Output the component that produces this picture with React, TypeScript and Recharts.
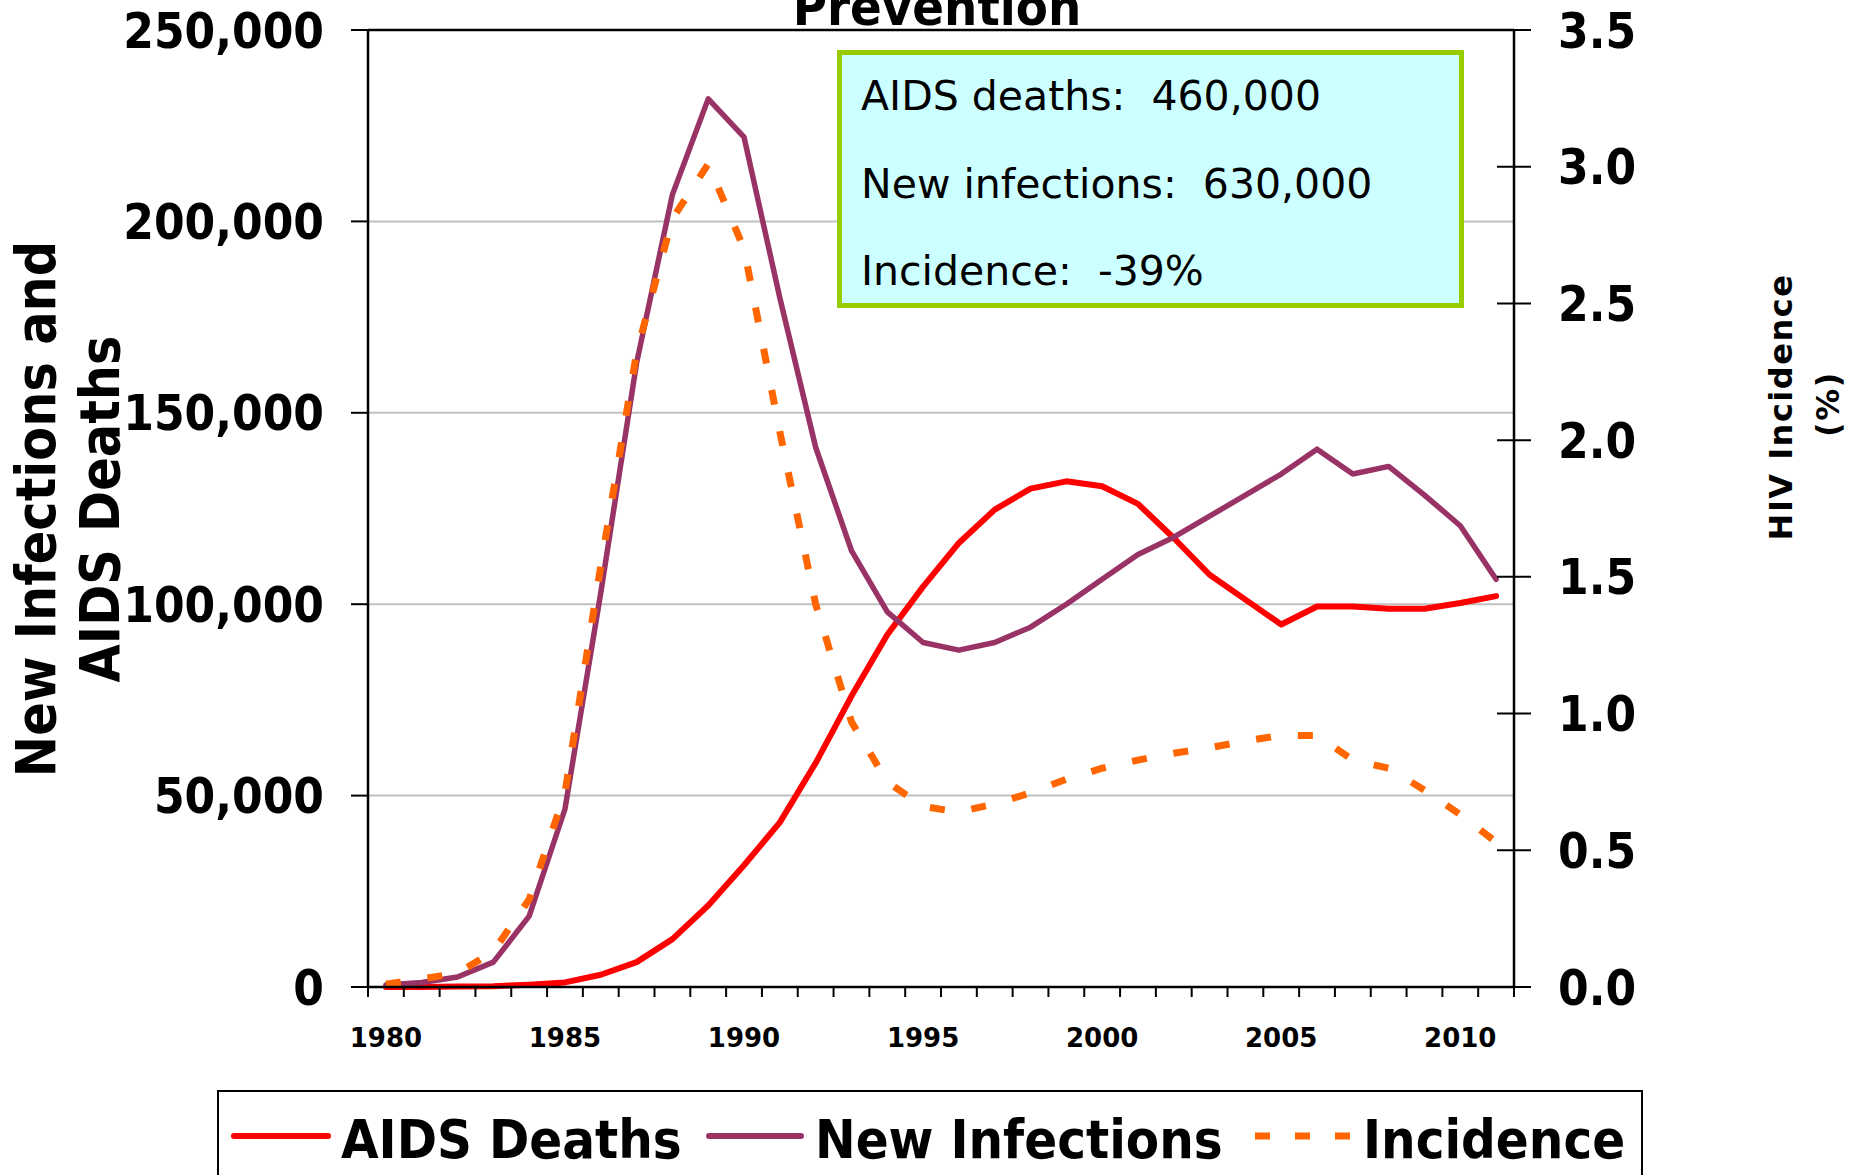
import React from 'react';
import { LineChart, Line, XAxis, YAxis, CartesianGrid, ReferenceLine } from 'recharts';

// values
const years = [
  1980, 1981, 1982, 1983, 1984, 1985, 1986, 1987, 1988, 1989,
  1990, 1991, 1992, 1993, 1994, 1995, 1996, 1997, 1998, 1999,
  2000, 2001, 2002, 2003, 2004, 2005, 2006, 2007, 2008, 2009,
  2010, 2011,
];
const aidsDeaths = [
  0, 0, 100, 200, 600, 1200, 3200, 6500, 12500, 21300,
  31800, 43000, 58500, 76000, 92000, 104600, 116000, 124700, 130200, 132100,
  130800, 126200, 117300, 107700, 101200, 94700, 99400, 99400, 98800, 98800,
  100300, 102100,
];
const newInfections = [
  500, 1200, 2600, 6500, 18500, 46500, 103000, 163000, 207000, 232000,
  222000, 180000, 141000, 114000, 98000, 90000, 88000, 90000, 94000, 100000,
  106500, 113000, 117500, 123000, 128500, 134000, 140500, 134000, 136000, 128500,
  120500, 106500,
];
const incidence = [
  0.01, 0.03, 0.05, 0.13, 0.32, 0.71, 1.54, 2.32, 2.81, 3.01,
  2.7, 2.03, 1.4, 0.97, 0.75, 0.66, 0.64, 0.67, 0.71, 0.76,
  0.8, 0.83, 0.855, 0.875, 0.9, 0.92, 0.92, 0.83, 0.8, 0.72,
  0.63, 0.53,
];

const leftTicks = [0, 50000, 100000, 150000, 200000, 250000];
const rightTicks = [0, 0.5, 1, 1.5, 2, 2.5, 3, 3.5];
const yearLabels = [1980, 1985, 1990, 1995, 2000, 2005, 2010];
const seriesNames = ['AIDS Deaths', 'New Infections', 'Incidence'];
const infoLines = ['AIDS deaths:  460,000', 'New infections:  630,000', 'Incidence:  -39%'];
const titleText = 'Prevention';
const leftTitle = ['New Infections and', 'AIDS Deaths'];
const rightTitle = ['HIV Incidence', '(%)'];

const data = years.map((year, i) => ({
  year,
  deaths: aidsDeaths[i],
  infections: newInfections[i],
  incidence: incidence[i],
}));

// category boundaries (Excel style tick marks between years) + the labelled years
const xTicks = [
  ...years.map((y) => y - 0.5),
  years[years.length - 1] + 0.5,
  ...yearLabels,
].sort((a, b) => a - b);

const W = 1855;
const H = 1175;
const COND = "'DejaVu Sans Condensed', 'DejaVu Sans', sans-serif";
const PLAIN = "'DejaVu Sans', sans-serif";
const RED = '#FF0000';
const PURPLE = '#993366';
const ORANGE = '#FF6600';
const DASH = '15 27';
const AXIS = { stroke: '#000', strokeWidth: 2.5 };

const fmt = (v: number) => v.toLocaleString('en-US');

function LeftTick(props: any) {
  const { x, y, payload } = props;
  return (
    <g>
      <line x1={x - 17} x2={x} y1={y} y2={y} stroke="#000" strokeWidth={2} />
      <text x={x - 44} y={y} dy="0.36em" textAnchor="end" fontFamily={COND}
        fontWeight="bold" fontSize={49} style={{ fontStretch: 'condensed' }} fill="#000">
        {fmt(payload.value)}
      </text>
    </g>
  );
}

function RightTick(props: any) {
  const { x, y, payload } = props;
  return (
    <g>
      <line x1={x - 17} x2={x + 17} y1={y} y2={y} stroke="#000" strokeWidth={2} />
      <text x={x + 44} y={y} dy="0.36em" textAnchor="start" fontFamily={COND}
        fontWeight="bold" fontSize={49} style={{ fontStretch: 'condensed' }} fill="#000">
        {payload.value.toFixed(1)}
      </text>
    </g>
  );
}

function XTick(props: any) {
  const { x, y, payload } = props;
  const v = payload.value;
  if (v % 1 !== 0) {
    return <line x1={x} x2={x} y1={y} y2={y + 10} stroke="#000" strokeWidth={2} />;
  }
  return (
    <text x={x} y={y + 60} textAnchor="middle" fontFamily={PLAIN} fontWeight="bold"
      fontSize={26} fill="#000">
      {v}
    </text>
  );
}

// legend layout (x of line start, line end, text start)
const legendLayout = [
  { x1: 234, x2: 328, tx: 341, color: RED, dash: undefined as string | undefined },
  { x1: 709, x2: 801, tx: 815, color: PURPLE, dash: undefined },
  { x1: 1255, x2: 1350, tx: 1363, color: ORANGE, dash: '15 25' },
];

function Overlay() {
  return (
    <svg width={W} height={H} style={{ position: 'absolute', left: 0, top: 0, pointerEvents: 'none' }}>
      <text x={937} y={25} textAnchor="middle" fontFamily={COND} fontWeight="bold"
        fontSize={52} style={{ fontStretch: 'condensed' }}>
        {titleText}
      </text>

      <text transform="translate(55,509) rotate(-90)" textAnchor="middle" fontFamily={COND}
        fontWeight="bold" fontSize={55} style={{ fontStretch: 'condensed' }}>
        {leftTitle[0]}
      </text>
      <text transform="translate(119,509) rotate(-90)" textAnchor="middle" fontFamily={COND}
        fontWeight="bold" fontSize={55} style={{ fontStretch: 'condensed' }}>
        {leftTitle[1]}
      </text>

      <text transform="translate(1792,407) rotate(-90)" textAnchor="middle" fontFamily={PLAIN}
        fontWeight="bold" fontSize={32} letterSpacing={1.5}>
        {rightTitle[0]}
      </text>
      <text transform="translate(1839,404) rotate(-90)" textAnchor="middle" fontFamily={PLAIN}
        fontWeight="bold" fontSize={32} letterSpacing={1.5}>
        {rightTitle[1]}
      </text>

      <rect x={839.5} y={52.5} width={622} height={253} fill="#CCFFFF" stroke="#99CC00" strokeWidth={5} />
      {infoLines.map((t, i) => (
        <text key={t} x={861} y={110 + i * 87.5} fontFamily={PLAIN} fontSize={41}
          style={{ whiteSpace: 'pre' }} xmlSpace="preserve">
          {t}
        </text>
      ))}

      <rect x={218} y={1091} width={1424} height={120} fill="#fff" stroke="#000" strokeWidth={2} />
      {seriesNames.map((name, i) => {
        const l = legendLayout[i];
        return (
          <g key={name}>
            <line x1={l.x1} x2={l.x2} y1={1136} y2={1136} stroke={l.color} strokeWidth={l.dash ? 7 : 6}
              strokeDasharray={l.dash} strokeLinecap={l.dash ? 'butt' : 'round'} />
            <text x={l.tx} y={1158} fontFamily={COND} fontWeight="bold" fontSize={54}
              style={{ fontStretch: 'condensed' }}>
              {name}
            </text>
          </g>
        );
      })}
    </svg>
  );
}

export default function App() {
  return (
    <div style={{ position: 'absolute', left: 0, top: 0, width: W, height: H, background: '#fff' }}>
      <LineChart width={W} height={H} data={data} margin={{ top: 30, right: 0, left: 0, bottom: 108 }}>
        <CartesianGrid vertical={false} yAxisId="left" stroke="#C0C0C0" strokeWidth={2} />
        <XAxis dataKey="year" type="number" domain={[1979.5, 2011.5]} ticks={xTicks}
          interval={0} height={80} tickLine={false} tickSize={0} tickMargin={0}
          axisLine={AXIS} tick={<XTick />} allowDataOverflow />
        <YAxis yAxisId="left" domain={[0, 250000]} ticks={leftTicks} interval={0} width={368}
          tickLine={false} tickSize={0} tickMargin={0} axisLine={AXIS} tick={<LeftTick />} />
        <YAxis yAxisId="right" orientation="right" domain={[0, 3.5]} ticks={rightTicks}
          interval={0} width={341} tickLine={false} tickSize={0} tickMargin={0}
          axisLine={AXIS} tick={<RightTick />} />
        <ReferenceLine yAxisId="left" y={250000} stroke="#000" strokeWidth={2.5} />
        <Line yAxisId="left" type="linear" dataKey="deaths" name={seriesNames[0]} stroke={RED}
          strokeWidth={6} strokeLinecap="round" strokeLinejoin="round" dot={false}
          isAnimationActive={false} />
        <Line yAxisId="left" type="linear" dataKey="infections" name={seriesNames[1]} stroke={PURPLE}
          strokeWidth={5.5} strokeLinecap="round" strokeLinejoin="round" dot={false}
          isAnimationActive={false} />
        <Line yAxisId="right" type="linear" dataKey="incidence" name={seriesNames[2]} stroke={ORANGE}
          strokeWidth={7} strokeDasharray={DASH} dot={false} isAnimationActive={false} />
      </LineChart>
      <Overlay />
    </div>
  );
}
